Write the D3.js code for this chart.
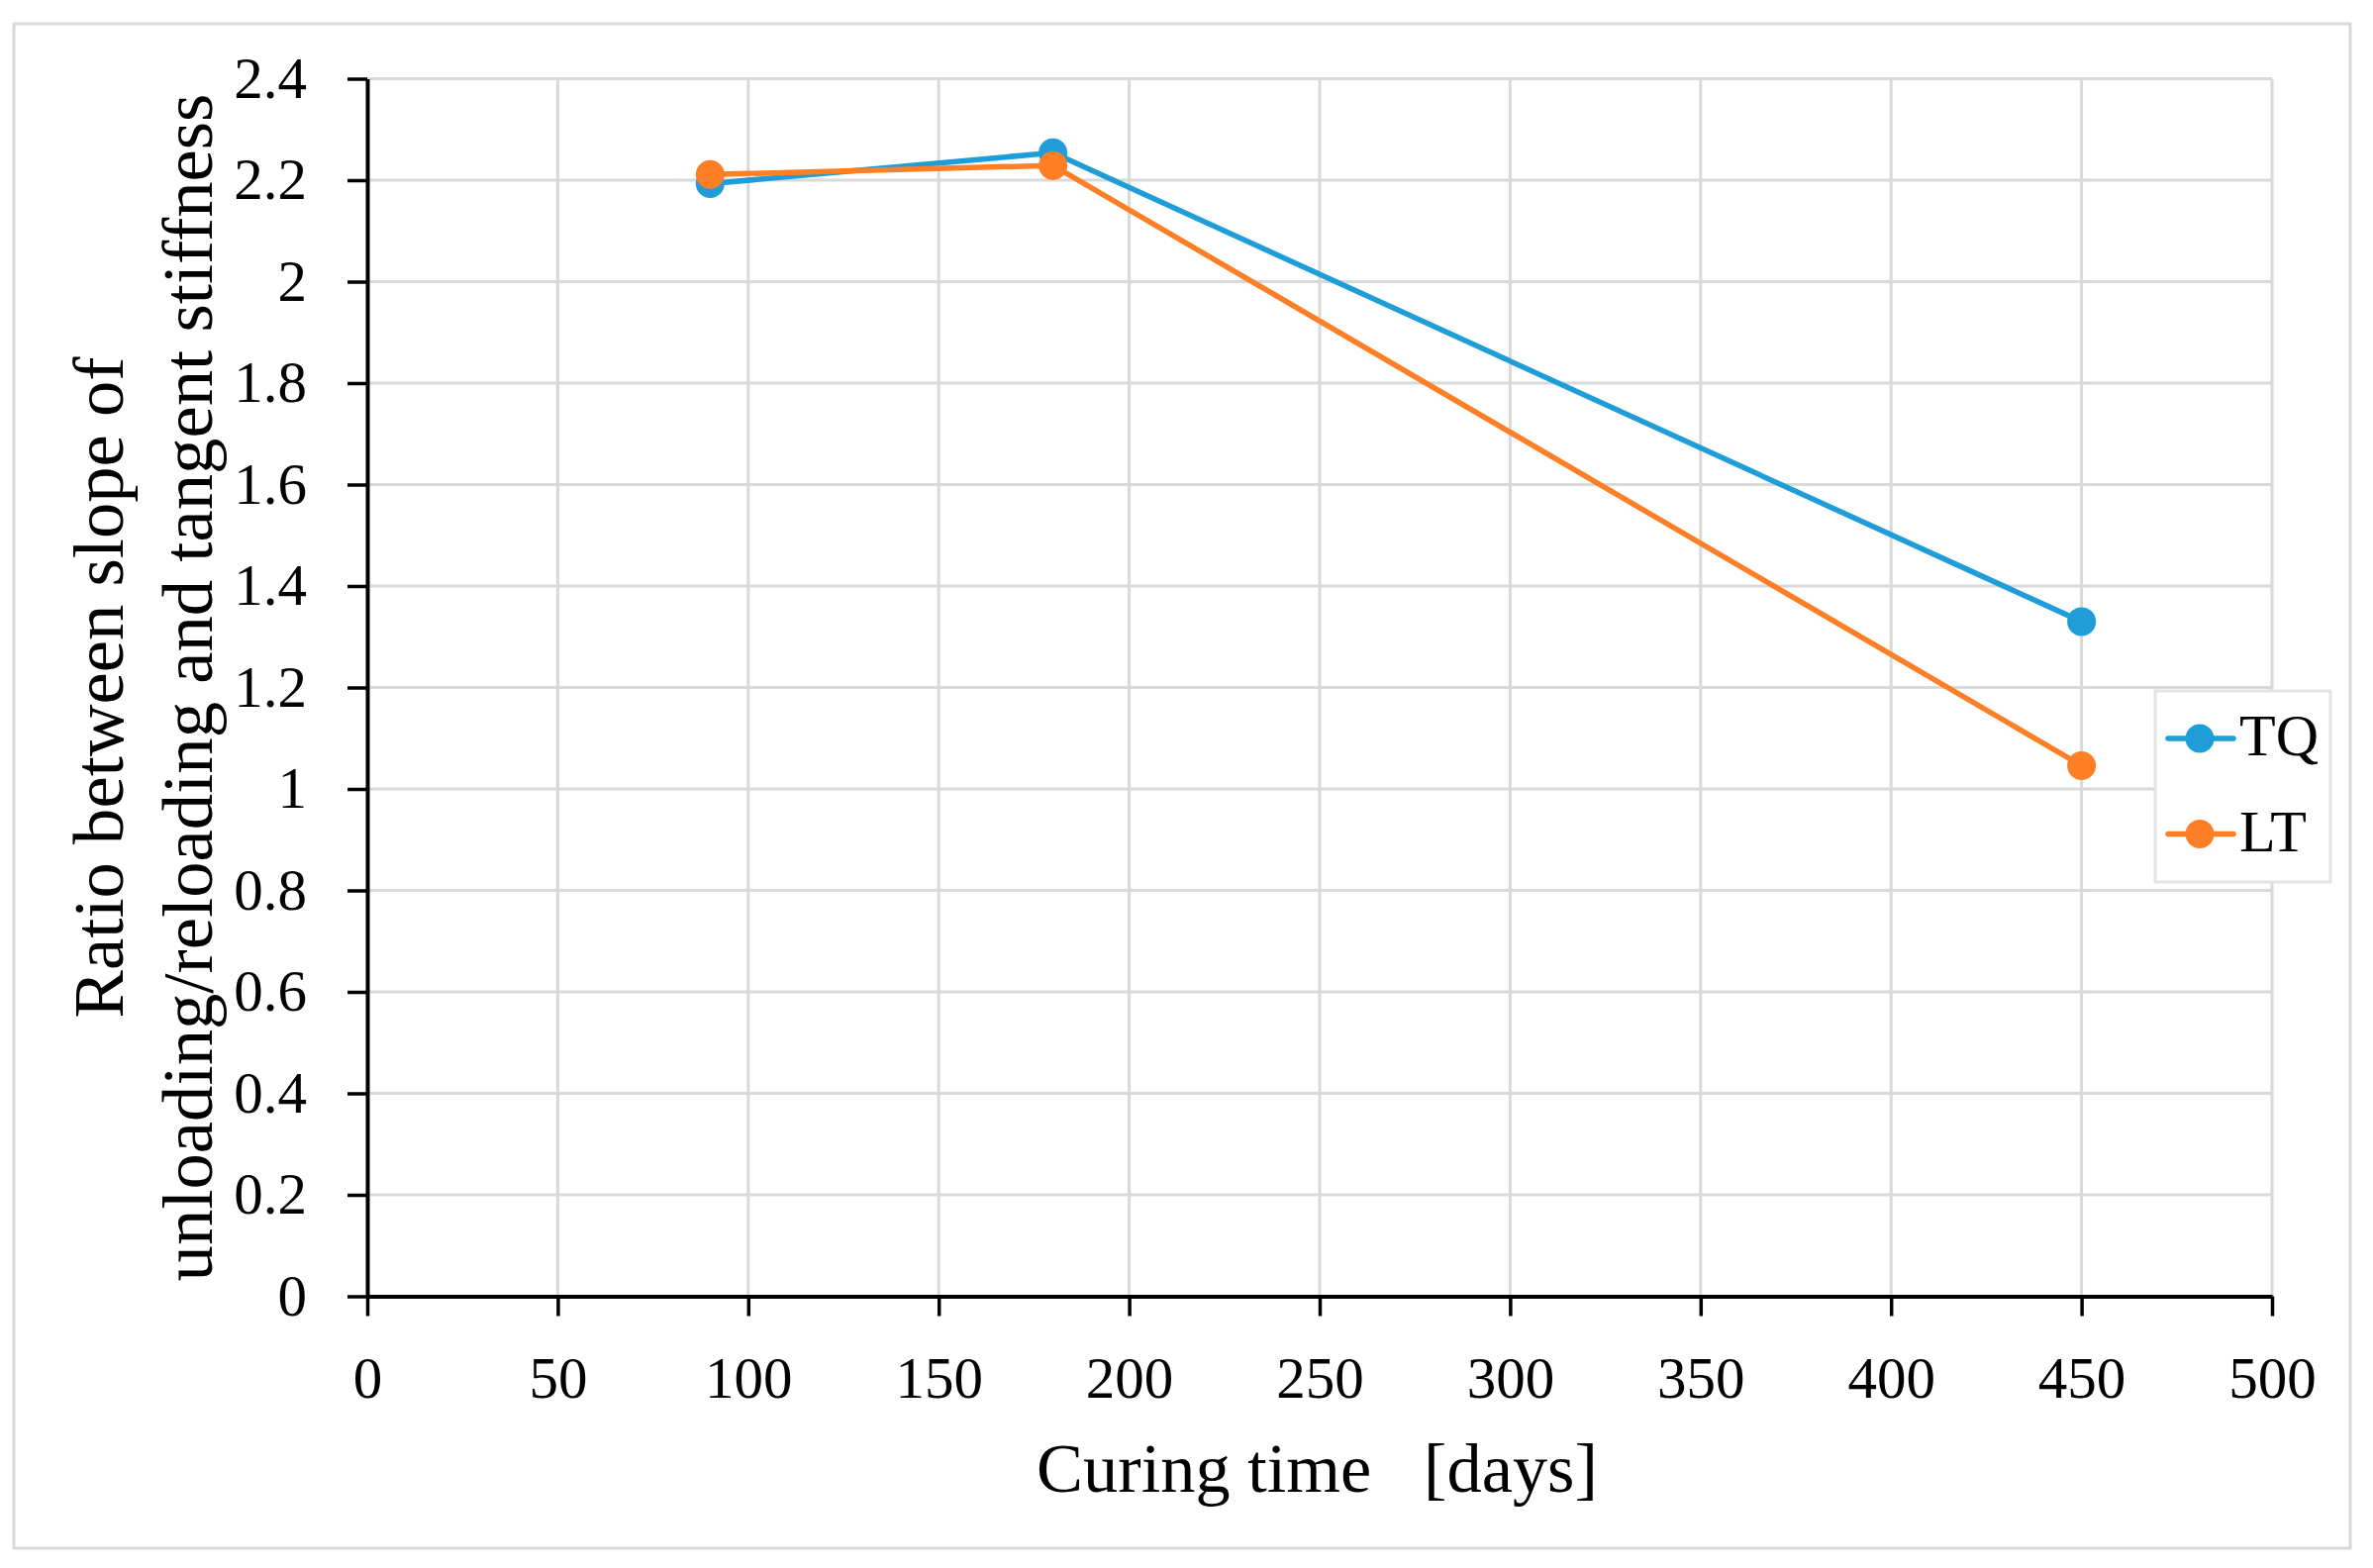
<!DOCTYPE html>
<html>
<head>
<meta charset="utf-8">
<script src="https://cdn.jsdelivr.net/npm/d3@7"></script>
<style>
  html, body { margin: 0; padding: 0; background: #ffffff; }
  svg { display: block; }
  text { font-family: "Liberation Serif", "DejaVu Serif", serif; fill: #000; }
</style>
</head>
<body>
<svg id="chart" width="2397" height="1584"></svg>
<script>
// ---- data ----
const days = [90, 180, 450];
const seriesNames = ["TQ", "LT"];
const tqValues = [2.193, 2.254, 1.330];
const ltValues = [2.211, 2.229, 1.046];
const xTickValues = [0, 50, 100, 150, 200, 250, 300, 350, 400, 450, 500];
const yTickValues = [0, 0.2, 0.4, 0.6, 0.8, 1.0, 1.2, 1.4, 1.6, 1.8, 2.0, 2.2, 2.4];
const xTitle = "Curing time   [days]";
const yTitleLines = ["Ratio between slope of", "unloading/reloading and tangent stiffness"];
const colors = ["#1e9dd8", "#ff7f27"];

(function () {
// ---- layout ----
const svg = d3.select("#chart");
const W = 2397, H = 1584;
const pL = 371, pR = 2295, pT = 79.5, pB = 1309.5;

svg.append("rect").attr("x", 0).attr("y", 0).attr("width", W).attr("height", H).attr("fill", "#fff");
svg.append("rect").attr("x", 14).attr("y", 24).attr("width", 2360).attr("height", 1540)
  .attr("fill", "none").attr("stroke", "#d9d9d9").attr("stroke-width", 3);

const x = d3.scaleLinear().domain([0, 500]).range([pL, pR]);
const y = d3.scaleLinear().domain([0, 2.4]).range([pB, pT]);

// gridlines
const grid = svg.append("g");
grid.selectAll("line.h").data(yTickValues.slice(1)).join("line").attr("class", "h")
  .attr("x1", pL).attr("x2", pR)
  .attr("y1", d => y(d)).attr("y2", d => y(d))
  .attr("stroke", "#d9d9d9").attr("stroke-width", 3);
grid.selectAll("line.v").data(xTickValues.slice(1)).join("line").attr("class", "v")
  .attr("x1", d => x(d)).attr("x2", d => x(d))
  .attr("y1", pT).attr("y2", pB)
  .attr("stroke", "#d9d9d9").attr("stroke-width", 3);

// axes
const fmt = d => String(+(+d).toFixed(1));
const yAxis = svg.append("g").attr("transform", `translate(${pL},0)`)
  .call(d3.axisLeft(y).tickValues(yTickValues).tickFormat(fmt).tickSize(20).tickPadding(41).tickSizeOuter(0));
const xAxis = svg.append("g").attr("transform", `translate(0,${pB})`)
  .call(d3.axisBottom(x).tickValues(xTickValues).tickFormat(fmt).tickSize(20).tickSizeOuter(0));

[yAxis, xAxis].forEach(a => {
  a.select(".domain").attr("stroke", "#000").attr("stroke-width", 4);
  a.selectAll(".tick line").attr("stroke", "#000").attr("stroke-width", 3.5);
  a.selectAll(".tick text").attr("font-family", "Liberation Serif").attr("font-size", 59).attr("fill", "#000");
});
xAxis.selectAll(".tick text").attr("dy", null).attr("y", 1412 - pB);

// series
const seriesData = [tqValues, ltValues];
const line = d3.line().x((d, i) => x(days[i])).y(d => y(d));
seriesData.forEach((vals, si) => {
  svg.append("path").datum(vals).attr("d", line)
    .attr("fill", "none").attr("stroke", colors[si]).attr("stroke-width", 5.5)
    .attr("stroke-linejoin", "round");
  svg.append("g").selectAll("circle").data(vals).join("circle")
    .attr("cx", (d, i) => x(days[i])).attr("cy", d => y(d)).attr("r", 14.5)
    .attr("fill", colors[si]);
});

// fit helper
function fitText(sel, targetWidth, baseSize) {
  sel.attr("font-size", baseSize);
  const w = sel.node().getComputedTextLength();
  sel.attr("font-size", baseSize * targetWidth / w);
}

// x title
const xt = svg.append("text").attr("x", 1330.5).attr("y", 1507)
  .attr("text-anchor", "middle").style("white-space", "pre").text(xTitle);
fitText(xt, 567, 70);

// y title
const yCenter = (pT + pB) / 2;
const yt2 = svg.append("text").attr("transform", `translate(214,${yCenter}) rotate(-90)`)
  .attr("text-anchor", "middle").text(yTitleLines[1]);
fitText(yt2, 1200, 66);
const fs = +yt2.attr("font-size");
svg.append("text").attr("transform", `translate(124,${yCenter}) rotate(-90)`)
  .attr("text-anchor", "middle").attr("font-size", fs).text(yTitleLines[0]);

// legend
const lg = svg.append("g");
lg.append("rect").attr("x", 2177).attr("y", 698).attr("width", 177).attr("height", 193)
  .attr("fill", "#fff").attr("stroke", "#e3e3e3").attr("stroke-width", 3);
const rowY = [746, 842.5];
seriesNames.forEach((name, i) => {
  lg.append("line").attr("x1", 2190).attr("x2", 2256).attr("y1", rowY[i]).attr("y2", rowY[i])
    .attr("stroke", colors[i]).attr("stroke-width", 5.5).attr("stroke-linecap", "round");
  lg.append("circle").attr("cx", 2222).attr("cy", rowY[i]).attr("r", 14.5).attr("fill", colors[i]);
  lg.append("text").attr("x", 2262).attr("y", rowY[i] + 17).attr("font-size", 60).text(name);
});
})();
</script>
</body>
</html>
